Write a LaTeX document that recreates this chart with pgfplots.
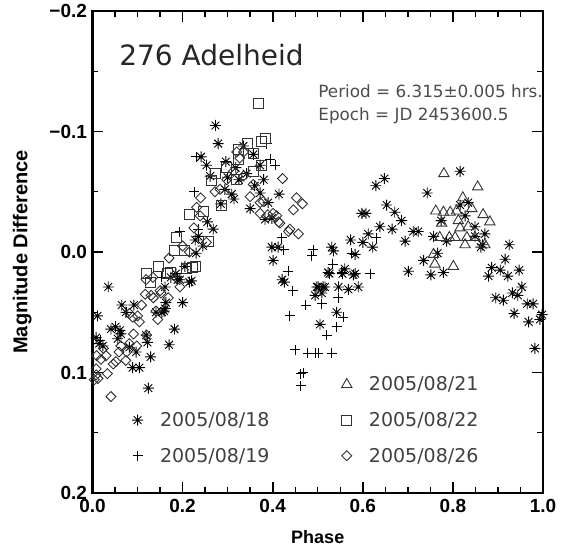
\documentclass[border=0pt]{standalone}
\usepackage{fontspec}
\setmainfont{DejaVu Sans}
\newfontfamily\helv{Liberation Sans}
\usepackage{pgfplots}
\pgfplotsset{compat=1.18}

\pgfdeclareplotmark{ast8}{%
  \pgfpathmoveto{\pgfqpoint{-\pgfplotmarksize}{0pt}}\pgfpathlineto{\pgfqpoint{\pgfplotmarksize}{0pt}}%
  \pgfpathmoveto{\pgfqpoint{0pt}{-\pgfplotmarksize}}\pgfpathlineto{\pgfqpoint{0pt}{\pgfplotmarksize}}%
  \pgfpathmoveto{\pgfqpoint{-0.707\pgfplotmarksize}{-0.707\pgfplotmarksize}}\pgfpathlineto{\pgfqpoint{0.707\pgfplotmarksize}{0.707\pgfplotmarksize}}%
  \pgfpathmoveto{\pgfqpoint{-0.707\pgfplotmarksize}{0.707\pgfplotmarksize}}\pgfpathlineto{\pgfqpoint{0.707\pgfplotmarksize}{-0.707\pgfplotmarksize}}%
  \pgfusepathqstroke}
\pgfdeclareplotmark{dia}{%
  \pgfpathmoveto{\pgfqpoint{0pt}{\pgfplotmarksize}}%
  \pgfpathlineto{\pgfqpoint{\pgfplotmarksize}{0pt}}%
  \pgfpathlineto{\pgfqpoint{0pt}{-\pgfplotmarksize}}%
  \pgfpathlineto{\pgfqpoint{-\pgfplotmarksize}{0pt}}%
  \pgfpathclose\pgfusepathqstroke}

\pgfplotstableread{
x y
0.008 0.071
0.011 0.053
0.035 0.029
0.015 0.076
0.023 0.078
0.041 0.064
0.051 0.062
0.061 0.065
0.063 0.068
0.056 0.072
0.065 0.044
0.074 0.050
0.092 0.044
0.082 0.079
0.097 0.083
0.089 0.096
0.104 0.096
0.119 0.069
0.122 0.075
0.129 0.087
0.124 0.113
0.141 0.050
0.154 0.050
0.159 0.049
0.161 0.047
0.163 0.042
0.161 0.029
0.170 0.077
0.182 0.064
0.200 0.042
0.174 0.021
0.185 0.018
0.189 0.023
0.194 0.023
0.205 0.012
0.215 0.025
0.220 0.024
0.230 0.001
0.228 -0.010
0.235 -0.013
0.245 -0.005
0.255 -0.025
0.268 -0.019
0.241 -0.079
0.253 -0.072
0.261 -0.063
0.273 -0.105
0.279 -0.090
0.296 -0.075
0.285 -0.040
0.294 -0.052
0.300 -0.062
0.309 -0.048
0.314 -0.044
0.318 -0.070
0.325 -0.060
0.335 -0.088
0.342 -0.065
0.357 -0.081
0.360 -0.055
0.350 -0.036
0.372 -0.072
0.372 -0.049
0.380 -0.060
0.390 -0.041
0.383 -0.027
0.398 -0.028
0.414 -0.048
0.398 -0.004
0.412 -0.004
0.401 0.007
0.421 0.023
0.426 0.025
0.494 0.036
0.498 0.029
0.501 0.029
0.509 0.034
0.512 0.029
0.516 0.029
0.505 0.060
0.523 0.017
0.526 0.018
0.531 -0.004
0.535 -0.001
0.542 0.050
0.546 0.029
0.555 0.018
0.560 0.014
0.568 0.031
0.573 -0.010
0.579 0.019
0.583 0.018
0.590 0.029
0.583 0.002
0.598 -0.032
0.607 -0.032
0.600 -0.008
0.612 -0.015
0.622 -0.004
0.629 -0.055
0.648 -0.061
0.653 -0.039
0.638 -0.021
0.665 -0.019
0.671 -0.033
0.686 -0.026
0.694 -0.009
0.712 -0.017
0.701 0.016
0.723 -0.017
0.735 0.007
0.743 -0.049
0.751 0.019
0.757 -0.013
0.766 0.001
0.774 -0.026
0.779 0.017
0.786 -0.009
0.816 -0.067
0.816 -0.039
0.834 -0.041
0.827 -0.030
0.849 -0.021
0.849 -0.013
0.862 -0.004
0.871 -0.015
0.866 -0.006
0.879 0.020
0.886 0.013
0.905 0.015
0.916 0.006
0.922 0.020
0.925 -0.006
0.947 0.015
0.895 0.038
0.912 0.040
0.932 0.034
0.944 0.036
0.953 0.029
0.936 0.051
0.965 0.043
0.978 0.043
0.968 0.058
0.993 0.056
0.982 0.080
0.998 0.052
}\dataA

\pgfplotstableread{
x y
0.017 0.073
0.076 0.050
0.154 0.021
0.194 -0.017
0.226 -0.050
0.230 -0.079
0.235 -0.019
0.394 -0.077
0.405 -0.072
0.387 -0.090
0.420 -0.012
0.424 -0.002
0.435 0.016
0.444 0.032
0.438 0.053
0.473 0.044
0.450 0.081
0.478 0.084
0.494 0.084
0.501 0.084
0.531 0.084
0.462 0.101
0.468 0.100
0.462 0.111
0.487 0.003
0.490 -0.002
0.509 0.043
0.520 0.069
0.542 0.062
0.546 0.038
0.533 0.010
0.553 0.017
0.557 0.054
0.575 0.001
0.616 0.018
0.630 -0.012
}\dataB

\pgfplotstableread{
x y
0.780 -0.065
0.855 -0.054
0.822 -0.045
0.762 -0.034
0.779 -0.033
0.794 -0.033
0.808 -0.034
0.842 -0.036
0.867 -0.031
0.882 -0.025
0.775 -0.024
0.812 -0.026
0.834 -0.021
0.816 -0.020
0.771 -0.012
0.792 -0.012
0.805 -0.012
0.831 -0.012
0.849 -0.012
0.827 -0.006
0.871 -0.006
0.757 0.002
0.760 0.010
0.801 0.012
}\dataC

\pgfplotstableread{
x y
0.368 -0.123
0.383 -0.094
0.376 -0.092
0.344 -0.090
0.357 -0.082
0.376 -0.072
0.324 -0.085
0.324 -0.077
0.298 -0.070
0.274 -0.065
0.265 -0.059
0.320 -0.060
0.357 -0.067
0.287 -0.039
0.246 -0.034
0.216 -0.031
0.187 -0.012
0.183 -0.001
0.205 -0.001
0.257 -0.009
0.228 0.012
0.222 0.013
0.209 0.014
0.172 0.017
0.167 0.018
0.146 0.012
0.119 0.018
0.128 0.025
}\dataD

\pgfplotstableread{
x y
0.008 0.102
0.008 0.097
0.012 0.105
0.009 0.086
0.019 0.089
0.024 0.080
0.030 0.086
0.033 0.101
0.041 0.120
0.046 0.093
0.052 0.091
0.059 0.083
0.063 0.078
0.074 0.090
0.076 0.083
0.082 0.076
0.082 0.051
0.089 0.054
0.091 0.068
0.098 0.078
0.100 0.053
0.104 0.058
0.109 0.044
0.117 0.035
0.119 0.023
0.120 0.069
0.130 0.036
0.134 0.021
0.135 0.038
0.141 0.049
0.145 0.056
0.150 0.032
0.152 0.034
0.168 0.038
0.170 0.005
0.194 0.029
0.200 -0.005
0.215 0.000
0.225 -0.020
0.231 -0.037
0.239 -0.030
0.240 -0.045
0.253 -0.008
0.272 -0.050
0.283 -0.052
0.298 -0.060
0.313 -0.067
0.320 -0.083
0.327 -0.078
0.335 -0.083
0.335 -0.063
0.350 -0.046
0.357 -0.056
0.372 -0.032
0.372 -0.041
0.379 -0.042
0.389 -0.031
0.401 -0.032
0.409 -0.030
0.413 -0.025
0.416 -0.024
0.422 -0.061
0.435 -0.017
0.438 -0.019
0.446 -0.035
0.453 -0.045
0.457 -0.015
0.466 -0.040
0.004 0.106
}\dataE

\begin{document}
\begin{tikzpicture}[x=1pt,y=1pt]
\useasboundingbox (0,0) rectangle (562,546);
\begin{axis}[
  at={(92.5pt,53pt)}, anchor=south west,
  scale only axis, width=450.5pt, height=482pt,
  xmin=0, xmax=1, ymin=-0.2, ymax=0.2, y dir=reverse,
  xtick={0,0.2,0.4,0.6,0.8,1},
  xticklabels={0.0,0.2,0.4,0.6,0.8,1.0},
  ytick={-0.2,-0.1,0,0.1,0.2},
  yticklabels={−0.2,−0.1,0.0,0.1,0.2},
  minor x tick num=3, minor y tick num=1,
  tick align=inside, xtick pos=both, ytick pos=both,
  major tick length=11pt, minor tick length=6pt,
  axis line style={line width=2.3pt},
  major tick style={line width=1.6pt, black},
  minor tick style={line width=1.4pt, black},
  tick label style={font=\helv\bfseries\fontsize{19}{21}\selectfont},
  xticklabel style={yshift=-3pt},
  yticklabel style={xshift=-2pt},
  xlabel={Phase}, ylabel={Magnitude Difference},
  xlabel style={font=\helv\bfseries\fontsize{18}{20}\selectfont, at={(axis description cs:0.5,-0.091)}, anchor=center},
  ylabel style={font=\helv\bfseries\fontsize{20}{22}\selectfont, at={(axis description cs:-0.156,0.5)}, anchor=center},
  legend columns=2,
  legend cell align=left,
  legend style={draw=none, fill=none, at={(axis cs:0.074,0.100)}, anchor=north west,
    font=\fontsize{19}{22}\selectfont\color{black!75},
    row sep=16pt,
    /tikz/every odd column/.append style={column sep=15pt},
    /tikz/every even column/.append style={column sep=70pt}},
]
\addplot[only marks, forget plot, mark=ast8, mark size=5.5pt, mark options={line width=0.9pt, black}] table[x=x,y=y] {\dataA};
\addplot[only marks, forget plot, mark=+, mark size=5pt, mark options={line width=0.9pt, black}] table[x=x,y=y] {\dataB};
\addplot[only marks, forget plot, mark=triangle, mark size=6pt, mark options={line width=0.9pt, black!80}] table[x=x,y=y] {\dataC};
\addplot[only marks, forget plot, mark=square, mark size=5pt, mark options={line width=0.9pt, black!80}] table[x=x,y=y] {\dataD};
\addplot[only marks, forget plot, mark=dia, mark size=5pt, mark options={line width=0.9pt, black!80}] table[x=x,y=y] {\dataE};

\addlegendimage{legend image code/.code={}}
\addlegendentry{}
\addlegendimage{only marks, mark=triangle, mark size=6pt, mark options={line width=0.9pt, black!80}}
\addlegendentry{2005/08/21}
\addlegendimage{only marks, mark=ast8, mark size=5.5pt, mark options={line width=0.9pt, black}}
\addlegendentry{2005/08/18}
\addlegendimage{only marks, mark=square, mark size=5pt, mark options={line width=0.9pt, black!80}}
\addlegendentry{2005/08/22}
\addlegendimage{only marks, mark=+, mark size=5pt, mark options={line width=0.9pt, black}}
\addlegendentry{2005/08/19}
\addlegendimage{only marks, mark=dia, mark size=5pt, mark options={line width=0.9pt, black!80}}
\addlegendentry{2005/08/26}

\node[anchor=west, inner sep=0, font=\fontsize{28}{30}\selectfont\color{black!85}] at (axis cs:0.059,-0.1635) {276 Adelheid};
\node[anchor=base west, inner sep=0, font=\fontsize{16.8}{18}\selectfont\color{black!70}] at (axis cs:0.501,-0.128) {Period = 6.315±0.005 hrs.};
\node[anchor=base west, inner sep=0, font=\fontsize{16.8}{18}\selectfont\color{black!70}] at (axis cs:0.501,-0.109) {Epoch = JD 2453600.5};
\end{axis}
\end{tikzpicture}
\end{document}
